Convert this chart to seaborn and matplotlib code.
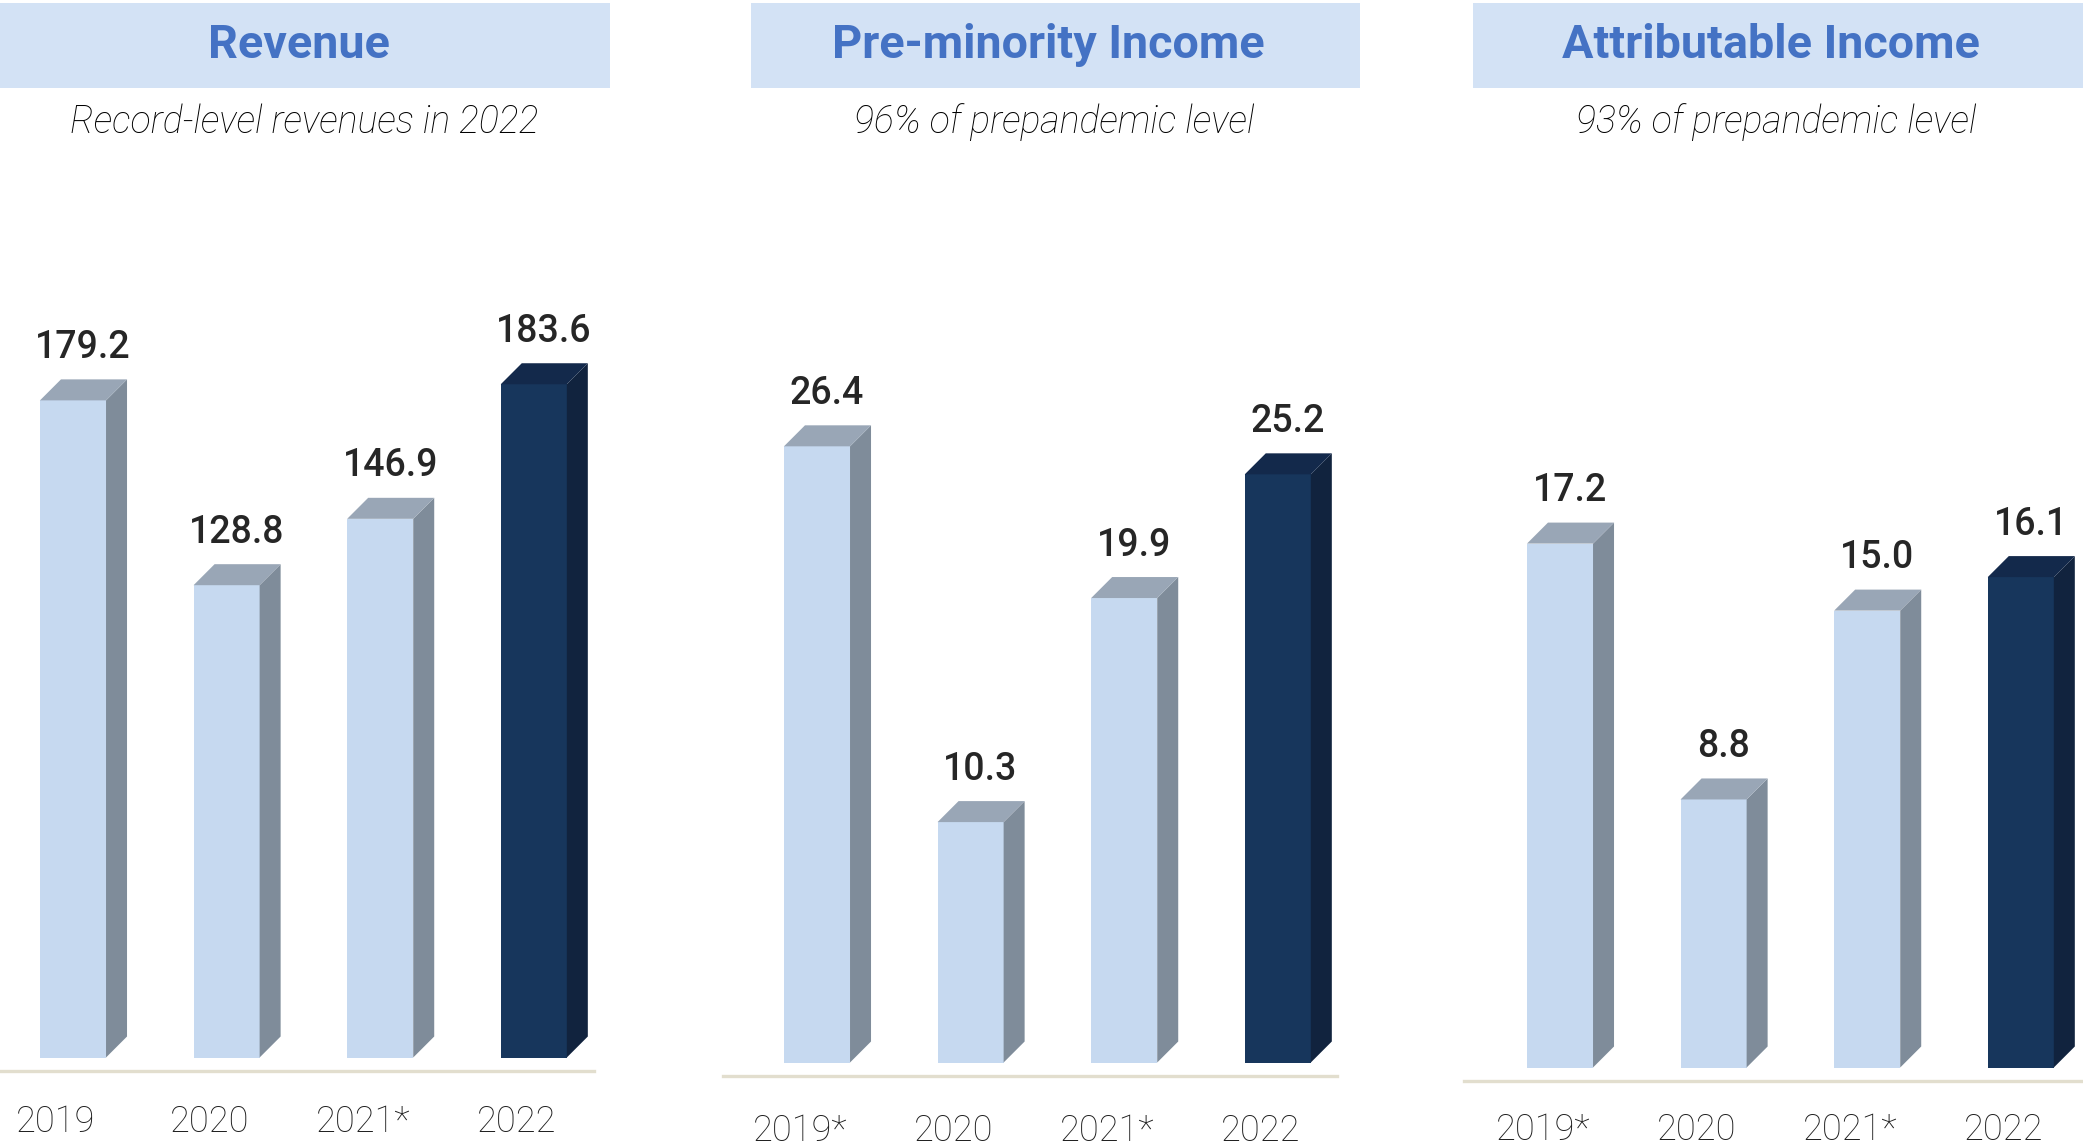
import matplotlib
matplotlib.use("Agg")
import matplotlib.pyplot as plt
import pandas as pd
import seaborn as sns
from matplotlib.patches import Polygon, Rectangle
from matplotlib.transforms import ScaledTranslation

# ---- data ----
revenue_years = ["2019", "2020", "2021*", "2022"]
revenue_values = [179.2, 128.8, 146.9, 183.6]

premin_years = ["2019*", "2020", "2021*", "2022"]
premin_values = [26.4, 10.3, 19.9, 25.2]

attrib_years = ["2019*", "2020", "2021*", "2022"]
attrib_values = [17.2, 8.8, 15.0, 16.1]

panel_titles = ["Revenue", "Pre-minority Income", "Attributable Income"]
panel_subtitles = ["Record-level revenues in 2022",
                   "96% of prepandemic level",
                   "93% of prepandemic level"]

# ---- style ----
sns.set_style("white")
plt.rcParams["font.family"] = ["Roboto", "DejaVu Sans"]

W, H, DPI = 2083, 1145, 100
fig = plt.figure(figsize=(W / DPI, H / DPI), dpi=DPI)
fig.patch.set_facecolor("white")

LIGHT = dict(front="#c6d9f0", side="#7f8c9a", top="#99a6b6")
DARK = dict(front="#17365c", side="#11233e", top="#13294b")
HEADER_BG = "#d3e2f5"
TITLE_BLUE = "#4472c4"
LINE_COL = "#e2dece"

SPACING = 153.6      # px between bar centres
BAR_W = 0.43         # front face width (category units)
DEPTH = 21           # 3-D depth in px
AX_TOP = 150         # px from top where plot area starts
GAP = 13.5           # px between bar bottoms and baseline

# per panel layout in pixels: axes left/right, baseline y, first bar centre,
# px per data unit, header box x-range, title/subtitle centre x, tick pad (pt)
layouts = [
    dict(left=0, right=594, line_y=1071, c0=73, ppu=3.667,
         hx0=0, hx1=610, tx=299, sx=304, pad=23.5),
    dict(left=723, right=1337, line_y=1076, c0=817, ppu=23.34,
         hx0=751, hx1=1360, tx=1048, sx=1054, pad=26.5),
    dict(left=1464, right=2083, line_y=1081, c0=1560, ppu=30.46,
         hx0=1473, hx1=2083, tx=1771, sx=1776, pad=22.5),
]

datasets = [(revenue_years, revenue_values),
            (premin_years, premin_values),
            (attrib_years, attrib_values)]

for lay, (years, values), title, subtitle in zip(layouts, datasets,
                                                 panel_titles, panel_subtitles):
    # header band
    fig.patches.append(Rectangle((lay["hx0"] / W, 1 - 88 / H),
                                 (lay["hx1"] - lay["hx0"]) / W, 85 / H,
                                 transform=fig.transFigure,
                                 facecolor=HEADER_BG, edgecolor="none"))
    fig.text(lay["tx"] / W, 1 - 45 / H, title, ha="center", va="center",
             fontsize=33.7, fontweight="bold", color=TITLE_BLUE)
    fig.text(lay["sx"] / W, 1 - 122 / H, subtitle, ha="center", va="center",
             fontsize=27, fontstyle="italic", fontweight="light",
             color="black")

    ax = fig.add_axes([lay["left"] / W, 1 - lay["line_y"] / H,
                       (lay["right"] - lay["left"]) / W,
                       (lay["line_y"] - AX_TOP) / H])
    ax.set_facecolor("none")

    n = len(years)
    styles = [LIGHT] * (n - 1) + [DARK]
    df = pd.DataFrame({"year": years, "value": values})
    sns.barplot(data=df, x="year", y="value", hue="year",
                palette=[s["front"] for s in styles], saturation=1,
                width=BAR_W, linewidth=0, legend=False, ax=ax)

    ppu = lay["ppu"]
    base_px = lay["line_y"] - GAP
    ax.set_xlim((lay["left"] - lay["c0"]) / SPACING,
                (lay["right"] - lay["c0"]) / SPACING)
    ax.set_ylim(-GAP / ppu, (base_px - AX_TOP) / ppu)

    dx = DEPTH / SPACING
    dy = DEPTH / ppu
    bars = [p for p in ax.patches if isinstance(p, Rectangle)]
    for p, st, v in zip(bars, styles, values):
        x0, w, h = p.get_x(), p.get_width(), p.get_height()
        x1 = x0 + w
        ax.add_patch(Polygon([(x1, 0), (x1 + dx, dy), (x1 + dx, h + dy), (x1, h)],
                             closed=True, facecolor=st["side"], edgecolor="none",
                             clip_on=False))
        ax.add_patch(Polygon([(x0, h), (x0 + dx, h + dy), (x1 + dx, h + dy), (x1, h)],
                             closed=True, facecolor=st["top"], edgecolor="none",
                             clip_on=False))
        ax.annotate(f"{v:.1f}", xy=(x0 + w / 2, h), xytext=(10, 53),
                    textcoords="offset pixels", ha="center", va="center",
                    fontsize=27, fontweight="medium", color="#262626",
                    annotation_clip=False)

    for side in ("top", "left", "right"):
        ax.spines[side].set_visible(False)
    ax.spines["bottom"].set_color(LINE_COL)
    ax.spines["bottom"].set_linewidth(2.4)
    ax.set_yticks([])
    ax.set_xlabel("")
    ax.set_ylabel("")
    ax.tick_params(axis="x", length=0, pad=lay["pad"], labelsize=26,
                   labelcolor="#1f1f1f")
    shift = ScaledTranslation(-17 / DPI, 0, fig.dpi_scale_trans)
    for lab in ax.get_xticklabels():
        lab.set_fontweight("light")
        lab.set_transform(lab.get_transform() + shift)

fig.savefig("out.png", dpi=DPI, facecolor="white")
